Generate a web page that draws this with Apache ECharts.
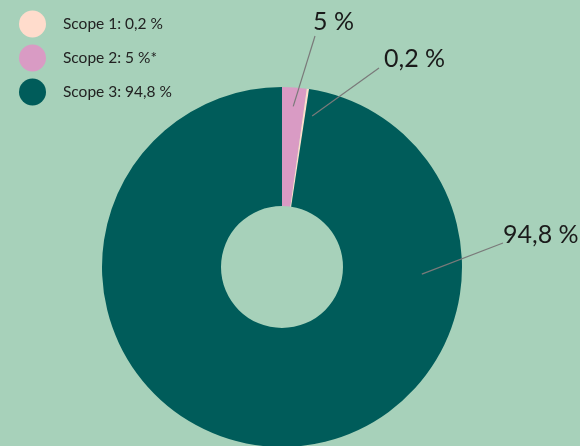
<!DOCTYPE html>
<html><head><meta charset="utf-8">
<script src="https://cdn.jsdelivr.net/npm/echarts@6/dist/echarts.min.js"></script>
<style>html,body{margin:0;padding:0;background:#a7d1ba;} #c{width:580px;height:446px;}</style>
</head><body><div id="c"></div>
<script>
// slices in drawing order (clockwise from 12 o'clock)
const categories = ['Scope 2', 'Scope 1', 'Scope 3'];
const values = [2.2, 0.2, 97.6];
const sliceLabels = ['5 %', '0,2 %', '94,8 %'];
const legendOrder = ['Scope 1', 'Scope 2', 'Scope 3'];
const legendLabels = ['Scope 1: 0,2 %', 'Scope 2: 5 %*', 'Scope 3: 94,8 %'];
const colors = ['#d99bc4', '#ffdccc', '#005c5a'];

const CX = 282, CY = 267, R0 = 61, R1 = 180;
// annotation placement: label left/middle, leader line start (polar, deg from top, radius) and end
const annot = [
  {x: 313, y: 22, a: 4, r: 161, ex: 315, ey: 36},
  {x: 384, y: 59, a: 11.3, r: 154, ex: 379, ey: 68},
  {x: 503, y: 234.5, a: 92.9, r: 140, ex: 503, ey: 243}
];

const pieData = categories.map((c, i) => ({name: c, value: values[i], itemStyle: {color: colors[i]}}));

const chart = echarts.init(document.getElementById('c'));
chart.setOption({
  animation: false,
  backgroundColor: '#a7d1ba',
  legend: {
    orient: 'vertical', left: 14, top: 5.5,
    itemWidth: 27, itemHeight: 27, itemGap: 7, icon: 'circle',
    data: legendOrder,
    selectedMode: false,
    formatter: n => legendLabels[legendOrder.indexOf(n)],
    textStyle: {fontFamily: 'Lato', fontSize: 15.5, color: '#222', padding: [0, 0, 0, 12]}
  },
  series: [{
    type: 'pie',
    z: 2,
    center: [CX, CY],
    radius: [R0, R1],
    startAngle: 90,
    clockwise: true,
    emphasis: {disabled: true},
    data: pieData,
    label: {show: false},
    labelLine: {show: false}
  }, {
    type: 'pie',
    z: 5,
    silent: true,
    center: [CX, CY],
    radius: [R0, R1],
    startAngle: 90,
    clockwise: true,
    avoidLabelOverlap: false,
    emphasis: {disabled: true},
    data: categories.map((c, i) => ({name: c, value: values[i]})),
    itemStyle: {color: 'rgba(0,0,0,0)'},
    label: {
      show: true, position: 'outside',
      formatter: p => sliceLabels[p.dataIndex],
      fontFamily: 'Lato', fontSize: 25, color: '#1a1a1a'
    },
    labelLine: {show: true, lineStyle: {color: '#7a7a7a', width: 1.2}},
    labelLayout: function (p) {
      const a = annot[p.dataIndex];
      const rad = a.a * Math.PI / 180;
      const sx = CX + a.r * Math.sin(rad), sy = CY - a.r * Math.cos(rad);
      return {
        x: a.x, y: a.y, align: 'left', verticalAlign: 'middle',
        labelLinePoints: [[sx, sy], [a.ex, a.ey], [a.ex, a.ey]]
      };
    }
  }]
});
</script></body></html>
